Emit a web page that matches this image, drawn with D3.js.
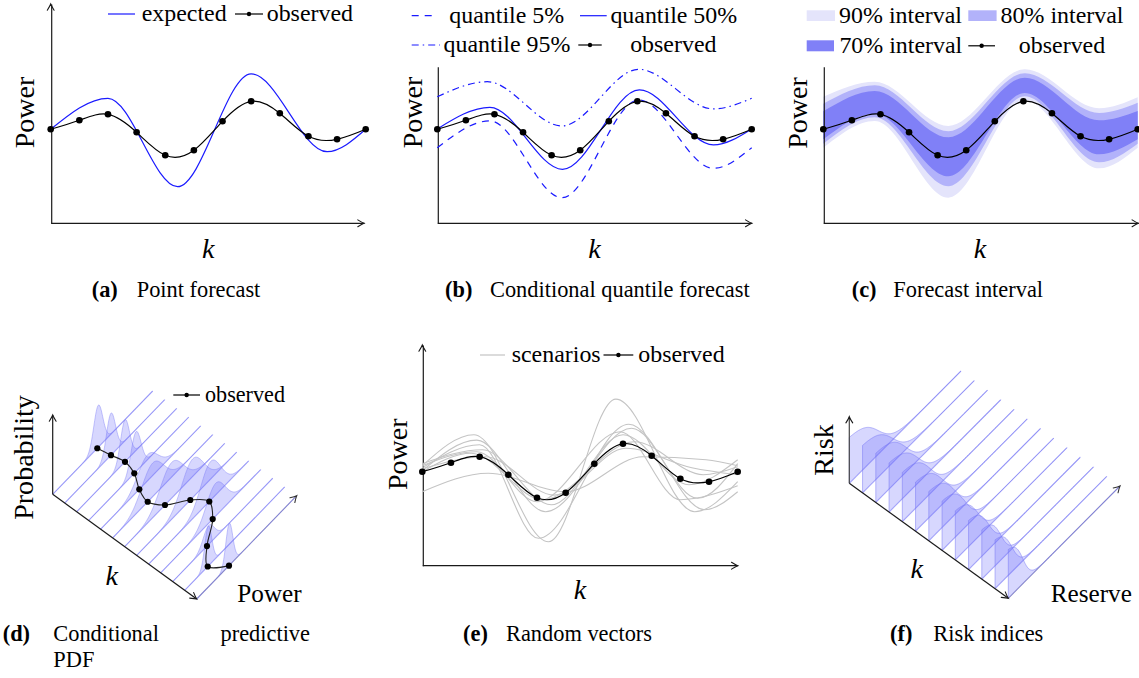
<!DOCTYPE html>
<html><head><meta charset="utf-8">
<script src="https://cdn.jsdelivr.net/npm/d3@7"></script>
<style>
body{margin:0;background:#fff;}
svg text{font-family:"Liberation Serif","Times New Roman",serif;fill:#000;}
</style></head><body>
<script>
// ================= DATA =================
const kIndex = d3.range(12);
const observedPower = [0.47,0.515,0.545,0.455,0.34,0.365,0.51,0.61,0.55,0.435,0.42,0.47];
const expectedTurnK = [0,2.0,4.43,7.0,9.65,11];
const expectedTurnV = [0.47,0.625,0.183,0.747,0.358,0.47];
const q05TurnK = [0,1.84,4.36,7.05,9.66,11];
const q05TurnV = [0.378,0.512,0.128,0.617,0.275,0.378];
const q50TurnK = [0,1.84,4.38,7.07,9.66,11];
const q50TurnV = [0.472,0.58,0.27,0.667,0.392,0.472];
const q95TurnK = [0,1.75,4.36,7.05,9.66,11];
const q95TurnV = [0.633,0.708,0.487,0.77,0.572,0.625];
const bandTurnK = [0,1.8,4.38,7.05,9.65,11];
const band90Lo = [0.378,0.512,0.128,0.617,0.275,0.378];
const band90Hi = [0.633,0.708,0.487,0.77,0.575,0.63];
const band80Lo = [0.398,0.53,0.185,0.635,0.305,0.398];
const band80Hi = [0.598,0.69,0.46,0.75,0.552,0.603];
const band70Lo = [0.42,0.548,0.235,0.652,0.345,0.42];
const band70Hi = [0.56,0.662,0.43,0.728,0.515,0.562];
const scenarioTurnK = [
 [0,1.8,4.4,6.75,9.5,11],[0,2.0,4.05,7.2,9.85,11],[0,1.9,4.3,7.3,9.6,11],[0,2.1,4.5,7.0,9.3,11],
 [0,1.7,4.2,7.4,9.8,11],[0,2.2,4.6,7.1,9.4,11],[0,2.3,5.0,7.7,9.9,11],[0,1.9,4.0,6.9,9.0,11]];
const scenarioTurnV = [
 [0.50,0.655,0.12,0.833,0.27,0.42],[0.49,0.605,0.137,0.707,0.28,0.37],[0.475,0.628,0.27,0.687,0.337,0.51],
 [0.51,0.58,0.305,0.655,0.405,0.53],[0.47,0.562,0.33,0.62,0.455,0.495],[0.485,0.545,0.353,0.587,0.49,0.455],
 [0.37,0.462,0.37,0.545,0.53,0.50],[0.50,0.57,0.32,0.67,0.33,0.40]];
const pdfSteps = d3.range(13);
const pdfObserved = [0.446,0.463,0.483,0.456,0.386,0.35,0.403,0.536,0.606,0.52,0.343,0.23,0.323];
const pdfMean   = [0.456,0.463,0.483,0.473,0.47,0.40,0.47,0.56,0.62,0.55,0.36,0.236,0.326];
const pdfSpread = [0.045,0.045,0.045,0.05,0.1,0.11,0.115,0.11,0.1,0.095,0.055,0.035,0.035];
const pdfHeight = [1,1,1,0.95,0.62,0.8,0.85,0.92,0.92,0.78,0.45,0.95,1];
const riskSteps = d3.range(13);
const riskHeight = [0.94,0.97,1,1,1,1,1,1,1,1,1,1,1];
const riskMid    = [0.26,0.27,0.27,0.26,0.25,0.24,0.23,0.21,0.2,0.18,0.17,0.15,0.13];
const riskSpread = [0.07,0.07,0.065,0.065,0.06,0.06,0.055,0.05,0.05,0.045,0.04,0.04,0.035];
const captionTags = ["(a)","(b)","(c)","(d)","(e)","(f)"];
const captionTexts = ["Point forecast","Conditional quantile forecast","Forecast interval","Conditional predictive PDF","Random vectors","Risk indices"];

// ================= HELPERS =================
const svg = d3.select("body").append("svg").attr("width",1139).attr("height",678);
const AX = "#1a1a1a";
function arrowHead(g,x,y,ang,color){
  const c=Math.cos(ang), s=Math.sin(ang);
  const P=(a,b)=>[x+a*c-b*s, y+a*s+b*c];
  const L=6.2, Wd=3.4;
  const a1=P(-L,-Wd), c1=P(-L*0.3,-Wd*0.2), a2=P(-L,Wd), c2=P(-L*0.3,Wd*0.2);
  g.append("path").attr("d",`M${a1}Q${c1} ${x},${y}Q${c2} ${a2}`)
   .attr("fill","none").attr("stroke",color||AX).attr("stroke-width",1.1).attr("stroke-linecap","round");
}
function measure(parts,size){
  const t=svg.append("text").attr("font-size",size);
  parts.forEach(p=>t.append("tspan").attr("font-weight",p.bold?"bold":null).attr("font-style",p.italic?"italic":null).text(p.t));
  const w=t.node().getComputedTextLength(); t.remove(); return w;
}
const fsLegend = 100*85/measure([{t:"expected"}],100);
const fsLabel  = 100*71.7/measure([{t:"Power"}],100);
const fsCap    = 100*260/measure([{t:"Conditional quantile forecast"}],100);
const fsSmall  = 100*80/measure([{t:"observed"}],100);
const fsAxisWord = 100*64.4/measure([{t:"Power"}],100);

function txt(g,x,y,s,size,anchor,opt){
  opt=opt||{};
  const t=g.append("text").attr("x",x).attr("y",y).attr("font-size",size).attr("text-anchor",anchor||"start").text(s);
  if(opt.italic) t.attr("font-style","italic");
  if(opt.bold) t.attr("font-weight","bold");
  if(opt.rot) t.attr("transform",`rotate(-90,${x},${y})`);
  return t;
}
function caption(g,tagX,textX,y,i){
  txt(g,tagX,y,captionTags[i],fsCap,"start",{bold:1});
  txt(g,textX,y,captionTexts[i],fsCap,"start");
}
function legendSym(g,x1,x2,y,opt){
  g.append("line").attr("x1",x1).attr("x2",x2).attr("y1",y).attr("y2",y)
   .attr("stroke",opt.color).attr("stroke-width",opt.w||1.2).attr("stroke-dasharray",opt.dash||null);
  if(opt.dot) g.append("circle").attr("cx",(x1+x2)/2).attr("cy",y).attr("r",2.2).attr("fill","#000");
}
function makePanel(cfg){
  const g=svg.append("g");
  const x=d3.scaleLinear().domain([0,11]).range([cfg.left,cfg.right]);
  const y=d3.scaleLinear().domain([0,1]).range([cfg.bottom,cfg.bottom-200]);
  return {g,x,y,cfg};
}
function drawAxes(p){
  const c=p.cfg, g=p.g;
  const xa=d3.scaleLinear().domain([0,1]).range([c.left,c.xTip]);
  g.append("g").attr("transform",`translate(0,${c.bottom-0.5})`)
   .call(d3.axisBottom(xa).tickValues([]).tickSizeOuter(0))
   .call(s=>s.select(".domain").attr("stroke",AX).attr("stroke-width",1.2));
  arrowHead(g,c.xTip,c.bottom,0);
  const ya=d3.scaleLinear().domain([0,1]).range([c.bottom,c.yTop]);
  g.append("g").attr("transform",`translate(${c.left+0.5},0)`)
   .call(d3.axisLeft(ya).tickValues([]).tickSizeOuter(0))
   .call(s=>s.select(".domain").attr("stroke",AX).attr("stroke-width",1.2));
  if(c.yArrow) arrowHead(g,c.left,c.yTop,-Math.PI/2);
}
function turnLine(p,K,V){
  return d3.line().x(d=>p.x(d[0])).y(d=>p.y(d[1])).curve(d3.curveMonotoneX)(d3.zip(K,V));
}
function drawObserved(p){
  const l=d3.line().x((d,i)=>p.x(kIndex[i])).y(d=>p.y(d)).curve(d3.curveNatural);
  p.g.append("path").attr("d",l(observedPower)).attr("fill","none").attr("stroke","#000").attr("stroke-width",1.2);
  p.g.selectAll(null).data(observedPower).join("circle")
   .attr("cx",(d,i)=>p.x(kIndex[i])).attr("cy",d=>p.y(d)).attr("r",3.3).attr("fill","#000");
}
const BLUE="#1a1aff";
const LB = 0.3;

// ================= PANEL A =================
{
  const p=makePanel({left:50.7,right:365.7,bottom:223.3,xTip:364,yTop:4,yArrow:true});
  drawAxes(p);
  p.g.append("path").attr("d",turnLine(p,expectedTurnK,expectedTurnV)).attr("fill","none").attr("stroke",BLUE).attr("stroke-width",1.2);
  drawObserved(p);
  txt(p.g,33.5,112.5,"Power",fsLabel,"middle",{rot:1});
  txt(p.g,208.3,258.3,"k",fsLabel,"middle",{italic:1});
  legendSym(p.g,108,135,14,{color:BLUE});
  txt(p.g,141.7,14+LB*fsLegend,"expected",fsLegend);
  legendSym(p.g,235,263,14,{color:"#000",dot:1});
  txt(p.g,266.7,14+LB*fsLegend,"observed",fsLegend);
  caption(p.g,91.7,136.7,297,0);
}
// ================= PANEL B =================
{
  const p=makePanel({left:437.3,right:751.7,bottom:223.3,xTip:751.7,yTop:66.7,yArrow:false});
  drawAxes(p);
  p.g.append("path").attr("d",turnLine(p,q95TurnK,q95TurnV)).attr("fill","none").attr("stroke",BLUE).attr("stroke-width",1.2).attr("stroke-dasharray","7,4,1.5,4");
  p.g.append("path").attr("d",turnLine(p,q05TurnK,q05TurnV)).attr("fill","none").attr("stroke",BLUE).attr("stroke-width",1.2).attr("stroke-dasharray","7,6");
  p.g.append("path").attr("d",turnLine(p,q50TurnK,q50TurnV)).attr("fill","none").attr("stroke",BLUE).attr("stroke-width",1.2);
  drawObserved(p);
  txt(p.g,421.7,112.5,"Power",fsLabel,"middle",{rot:1});
  txt(p.g,594.5,258.3,"k",fsLabel,"middle",{italic:1});
  legendSym(p.g,411.7,435,15.7,{color:BLUE,dash:"7,6"});
  txt(p.g,506.7,15.7+LB*fsLegend,"quantile 5%",fsLegend,"middle");
  legendSym(p.g,580,606.7,15.7,{color:BLUE});
  txt(p.g,673.8,15.7+LB*fsLegend,"quantile 50%",fsLegend,"middle");
  legendSym(p.g,411.7,440,45,{color:BLUE,dash:"7,4,1.5,4"});
  txt(p.g,507,45+LB*fsLegend,"quantile 95%",fsLegend,"middle");
  legendSym(p.g,578.3,601.7,45,{color:"#000",dot:1});
  txt(p.g,673.3,45+LB*fsLegend,"observed",fsLegend,"middle");
  caption(p.g,445,490,297,1);
}
// ================= PANEL C =================
{
  const p=makePanel({left:823.3,right:1137.7,bottom:223.3,xTip:1138.3,yTop:66.7,yArrow:false});
  const area=d3.area().x(d=>p.x(d[0])).y0(d=>p.y(d[1])).y1(d=>p.y(d[2])).curve(d3.curveMonotoneX);
  const C90="#e4e4fb", C80="#b2b2fa", C70="#8080f7";
  p.g.append("path").attr("d",area(d3.zip(bandTurnK,band90Lo,band90Hi))).attr("fill",C90);
  p.g.append("path").attr("d",area(d3.zip(bandTurnK,band80Lo,band80Hi))).attr("fill",C80);
  p.g.append("path").attr("d",area(d3.zip(bandTurnK,band70Lo,band70Hi))).attr("fill",C70);
  drawAxes(p);
  drawObserved(p);
  txt(p.g,806.7,113,"Power",fsLabel,"middle",{rot:1});
  txt(p.g,980,258.3,"k",fsLabel,"middle",{italic:1});
  p.g.append("rect").attr("x",806.7).attr("y",10.3).attr("width",28.3).attr("height",10.7).attr("fill",C90);
  txt(p.g,900.5,15.7+LB*fsLegend,"90% interval",fsLegend,"middle");
  p.g.append("rect").attr("x",968.3).attr("y",10.3).attr("width",28.3).attr("height",10.7).attr("fill",C80);
  txt(p.g,1062,15.7+LB*fsLegend,"80% interval",fsLegend,"middle");
  p.g.append("rect").attr("x",806.7).attr("y",40.3).attr("width",27.3).attr("height",11).attr("fill",C70);
  txt(p.g,900.8,45.8+LB*fsLegend,"70% interval",fsLegend,"middle");
  legendSym(p.g,968.3,995,45.8,{color:"#000",dot:1});
  txt(p.g,1062,45.8+LB*fsLegend,"observed",fsLegend,"middle");
  caption(p.g,851.7,893.3,297,2);
}
// ================= PANEL E =================
{
  const p=makePanel({left:422.3,right:737.7,bottom:565.7,xTip:737.7,yTop:345,yArrow:true});
  drawAxes(p);
  scenarioTurnK.forEach((K,i)=>{
    p.g.append("path").attr("d",turnLine(p,K,scenarioTurnV[i])).attr("fill","none").attr("stroke","#c4c4c4").attr("stroke-width",1.1);
  });
  drawObserved(p);
  txt(p.g,406.7,454.2,"Power",fsLabel,"middle",{rot:1});
  txt(p.g,580,599.3,"k",fsLabel,"middle",{italic:1});
  legendSym(p.g,480,505,355,{color:"#c4c4c4"});
  txt(p.g,511.7,355+LB*fsLegend,"scenarios",fsLegend);
  legendSym(p.g,603.5,633.3,355,{color:"#000",dot:1});
  txt(p.g,638.3,355+LB*fsLegend,"observed",fsLegend);
  caption(p.g,463,506,641,4);
}
// ================= PANEL D =================
{
  const g=svg.append("g");
  const stepX=d3.scaleLinear().domain([0,12]).range([52.7,196.7]);
  const stepY=d3.scaleLinear().domain([0,12]).range([494.3,599]);
  const powX=d3.scaleLinear().domain([0,1]).range([0,100]);
  const powY=d3.scaleLinear().domain([0,1]).range([0,-103.3]);
  const prob=d3.scaleLinear().domain([0,1]).range([0,42]);
  const proj=(k,t,z)=>[stepX(k)+powX(t), stepY(k)+powY(t)-prob(z)];
  const grid=d3.range(0,1.0001,0.005);
  const LINEC="rgba(120,120,245,0.62)";
  pdfSteps.forEach(k=>{
    const a=proj(k,0,0), b=proj(k,1,0);
    g.append("line").attr("x1",a[0]).attr("y1",a[1]).attr("x2",b[0]).attr("y2",b[1]).attr("stroke",k===12?"#8a8ac4":LINEC).attr("stroke-width",1.1);
  });
  const ln=d3.line();
  pdfSteps.forEach(k=>{
    const top=grid.map(t=>proj(k,t,pdfHeight[k]*Math.exp(-0.5*Math.pow((t-pdfMean[k])/pdfSpread[k],2))));
    const base=grid.slice().reverse().map(t=>proj(k,t,0));
    g.append("path").attr("d",ln(top.concat(base))+"Z").attr("fill","rgba(110,110,250,0.28)").attr("stroke","none");
    g.append("path").attr("d",ln(top)).attr("fill","none").attr("stroke","rgba(120,120,245,0.45)").attr("stroke-width",0.9);
  });
  const o=proj(0,0,0), kEnd=proj(12,0,0), pEnd=proj(12,1,0);
  g.append("line").attr("x1",o[0]).attr("y1",o[1]).attr("x2",o[0]).attr("y2",415).attr("stroke",AX).attr("stroke-width",1.2);
  arrowHead(g,o[0],415,-Math.PI/2);
  g.append("line").attr("x1",o[0]).attr("y1",o[1]).attr("x2",kEnd[0]).attr("y2",kEnd[1]).attr("stroke",AX).attr("stroke-width",1.2);
  arrowHead(g,kEnd[0],kEnd[1],Math.atan2(kEnd[1]-o[1],kEnd[0]-o[0]));
  arrowHead(g,pEnd[0],pEnd[1],Math.atan2(pEnd[1]-kEnd[1],pEnd[0]-kEnd[0]),"#333");
  const pts=pdfSteps.map(k=>proj(k,pdfObserved[k],0));
  g.append("path").attr("d",d3.line().curve(d3.curveCatmullRom)(pts)).attr("fill","none").attr("stroke","#222").attr("stroke-width",1.1);
  g.selectAll(null).data(pts).join("circle").attr("cx",d=>d[0]).attr("cy",d=>d[1]).attr("r",3.1).attr("fill","#000");
  txt(g,33.3,457.5,"Probability",fsLabel,"middle",{rot:1});
  txt(g,111.7,585,"k",fsLabel,"middle",{italic:1});
  txt(g,237.3,601.7,"Power",fsAxisWord);
  legendSym(g,173.3,200,395,{color:"#000",dot:1});
  txt(g,205,395+LB*fsSmall,"observed",fsSmall);
  txt(g,2.7,641,captionTags[3],fsCap,"start",{bold:1});
  txt(g,53.3,641,"Conditional",fsCap,"start");
  txt(g,310,641,"predictive",fsCap,"end");
  txt(g,53.3,666.7,"PDF",fsCap);
}
// ================= PANEL F =================
{
  const g=svg.append("g");
  const stepX=d3.scaleLinear().domain([0,12]).range([849.3,1008.3]);
  const stepY=d3.scaleLinear().domain([0,12]).range([483.3,598.3]);
  const resX=d3.scaleLinear().domain([0,1]).range([0,111.7]);
  const resY=d3.scaleLinear().domain([0,1]).range([0,-112.3]);
  const risk=d3.scaleLinear().domain([0,1]).range([0,50]);
  const proj=(k,t,z)=>[stepX(k)+resX(t), stepY(k)+resY(t)-risk(z)];
  const grid=d3.range(0,1.0001,0.005);
  const LINEC="rgba(120,120,245,0.62)";
  riskSteps.forEach(k=>{
    const a=proj(k,0,0), b=proj(k,1,0);
    g.append("line").attr("x1",a[0]).attr("y1",a[1]).attr("x2",b[0]).attr("y2",b[1]).attr("stroke",k===12?"#8a8ac4":LINEC).attr("stroke-width",1.1);
  });
  const ln=d3.line();
  riskSteps.forEach(k=>{
    const top=grid.map(t=>proj(k,t,riskHeight[k]/(1+Math.exp((t-riskMid[k])/riskSpread[k]))));
    const base=grid.slice().reverse().map(t=>proj(k,t,0));
    const start=proj(k,0,0);
    g.append("path").attr("d",ln([start].concat(top,base))+"Z").attr("fill","rgba(110,110,250,0.28)").attr("stroke","none");
    g.append("path").attr("d",ln([start].concat(top))).attr("fill","none").attr("stroke","rgba(120,120,245,0.5)").attr("stroke-width",1);
  });
  const o=proj(0,0,0), kEnd=proj(12,0,0), pEnd=proj(12,1,0);
  g.append("line").attr("x1",o[0]).attr("y1",o[1]).attr("x2",o[0]).attr("y2",416.7).attr("stroke","#444").attr("stroke-width",1.2);
  arrowHead(g,o[0],416.7,-Math.PI/2);
  g.append("line").attr("x1",o[0]).attr("y1",o[1]).attr("x2",kEnd[0]).attr("y2",kEnd[1]).attr("stroke",AX).attr("stroke-width",1.2);
  arrowHead(g,kEnd[0],kEnd[1],Math.atan2(kEnd[1]-o[1],kEnd[0]-o[0]));
  arrowHead(g,pEnd[0],pEnd[1],Math.atan2(pEnd[1]-kEnd[1],pEnd[0]-kEnd[0]),"#333");
  txt(g,833.3,450,"Risk",fsLabel,"middle",{rot:1});
  txt(g,916.7,578.3,"k",fsLabel,"middle",{italic:1});
  txt(g,1050.7,601.7,"Reserve",fsAxisWord);
  caption(g,890,933.3,641,5);
}
</script>
</body></html>
